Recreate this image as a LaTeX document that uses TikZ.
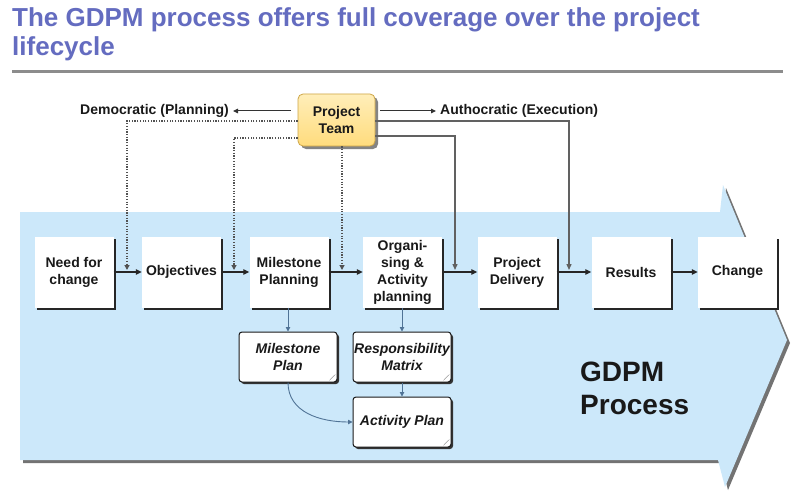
\documentclass[tikz,border=0pt]{standalone}
\usepackage{fontspec}
\setmainfont{Liberation Sans}
\usetikzlibrary{arrows.meta,shadows,calc}
\definecolor{titleblue}{RGB}{100,108,192}
\definecolor{procblue}{RGB}{204,232,250}
\definecolor{teamfill}{RGB}{255,220,125}
\definecolor{teamtop}{RGB}{255,238,185}
\definecolor{teamedge}{RGB}{205,165,70}
\definecolor{subarrow}{RGB}{80,115,150}
\begin{document}
\begin{tikzpicture}[x=1pt,y=-1pt,
  txt/.style={font=\fontsize{14}{17}\selectfont\bfseries, text=black!90},
  procbox/.style={txt, fill=white, minimum width=79pt, minimum height=71pt, inner sep=1pt, align=center,
    drop shadow={shadow xshift=2pt, shadow yshift=-2pt, fill=black!85, opacity=1}},
  teambox/.style={txt, top color=teamtop, bottom color=teamfill, draw=teamedge, line width=0.8pt,
    rounded corners=5pt, minimum width=77pt, minimum height=52pt, align=center, inner sep=1pt,
    drop shadow={shadow xshift=3pt, shadow yshift=-3pt, fill=black!60, opacity=0.8}},
  docbox/.style={font=\fontsize{14}{17}\selectfont\bfseries\itshape, text=black!90, fill=white, draw=black!90,
    line width=1pt, rounded corners=3pt, minimum width=98pt, minimum height=50pt, align=center, inner sep=0pt,
    drop shadow={shadow xshift=2pt, shadow yshift=-2pt, fill=black!80, opacity=1},
    path picture={\fill[black!40] ([xshift=-9pt]path picture bounding box.south east)
      -- ([yshift=9pt]path picture bounding box.south east)
      -- ([xshift=-5pt,yshift=5pt]path picture bounding box.south east) -- cycle;}},
  mainarr/.style={line width=1.2pt, draw=black!85, -{Triangle[length=6pt,width=5.5pt]}},
  dotarr/.style={line width=1.2pt, draw=black!68, dash pattern=on 1.2pt off 1.5pt, -{Triangle[length=5pt,width=5pt]}},
  ptarr/.style={line width=1.3pt, draw=black!62, -{Triangle[length=6pt,width=5pt]}},
  labarr/.style={line width=1pt, draw=black!80, -{Triangle[length=5pt,width=4.5pt]}},
  subarr/.style={line width=0.9pt, draw=subarrow, -{Triangle[length=4.5pt,width=4.5pt]}}
]
\useasboundingbox (0,0) rectangle (800,500);
\fill[white] (0,0) rectangle (800,500);

% title
\node[font=\fontsize{26}{29}\selectfont\bfseries, text=titleblue, anchor=base west, inner sep=0pt] (t1) at (12,27)
  {The GDPM process offers full coverage over the project};
\node[font=\fontsize{26}{29}\selectfont\bfseries, text=titleblue, anchor=base west, inner sep=0pt] (t2) at (12,56)
  {lifecycle};
\draw[line width=3pt, draw=black!45] (12,72) -- (783,72);

% big process arrow
\begin{scope}[shift={(3,3)}]
\fill[black!55] (20,212) -- (720,212) -- (723,185) -- (787,340) -- (725,487) -- (718,460) -- (20,460) -- cycle;
\end{scope}
\fill[procblue] (20,212) -- (720,212) -- (723,185) -- (787,340) -- (725,487) -- (718,460) -- (20,460) -- cycle;

% process boxes
\node[procbox] (need) at (74,272) {Need for\\change};
\node[procbox] (obj) at (181.5,272) {Objectives};
\node[procbox] (mile) at (289,272) {Milestone\\Planning};
\node[procbox] (org) at (402.5,272) {Organi-\\sing \&\\Activity\\planning};
\node[procbox] (deliv) at (517,272) {Project\\Delivery};
\node[procbox] (res) at (631,272) {Results};
\node[procbox] (chg) at (737.5,272) {Change};

\draw[mainarr] (need) -- (obj);
\draw[mainarr] (obj) -- (mile);
\draw[mainarr] (mile) -- (org);
\draw[mainarr] (org) -- (deliv);
\draw[mainarr] (deliv) -- (res);
\draw[mainarr] (res) -- (chg);

% documents
\node[docbox] (mplan) at (288,357) {Milestone\\Plan};
\node[docbox] (resp) at (402,357) {Responsibility\\Matrix};
\node[docbox] (aplan) at (402,422) {Activity Plan};

\draw[subarr] (mile.south -| mplan.north) -- (mplan.north);
\draw[subarr] (org.south -| resp.north) -- (resp.north);
\draw[subarr] (resp.south) -- (aplan.north);
\draw[subarr] (mplan.south) .. controls +(0,30) and +(-32,0) .. (aplan.west);

% project team
\node[teambox] (pt) at (336.5,120) {Project\\Team};
\node[txt, anchor=east, inner sep=0pt] (dem) at (229,111) {Democratic (Planning)};
\node[txt, anchor=west, inner sep=0pt] (auth) at (440,111) {Authocratic (Execution)};
\draw[labarr, shorten <=7pt, shorten >=4pt] (pt.west |- dem.east) -- (dem.east);
\draw[labarr, shorten <=5pt, shorten >=4pt] (pt.east |- auth.west) -- (auth.west);

\coordinate (j1) at (127,270);
\coordinate (j2) at (234,270);
\coordinate (j3) at (342,270);
\coordinate (j4) at (455,270);
\coordinate (j5) at (569,270);

\draw[dotarr] ([yshift=-1pt]pt.west) -| (j1);
\draw[dotarr] ([yshift=-18pt]pt.west) -| (j2);
\draw[dotarr] (pt.south -| j3) -- (j3);
\draw[ptarr] ([yshift=-1pt]pt.east) -| (j5);
\draw[ptarr] ([yshift=-16pt]pt.east) -| (j4);

% GDPM label
\node[font=\fontsize{28}{33}\selectfont\bfseries, text=black!90, anchor=north west, align=left, inner sep=0pt] (gdpm) at (580,362)
  {GDPM\\Process};
\end{tikzpicture}
\end{document}
